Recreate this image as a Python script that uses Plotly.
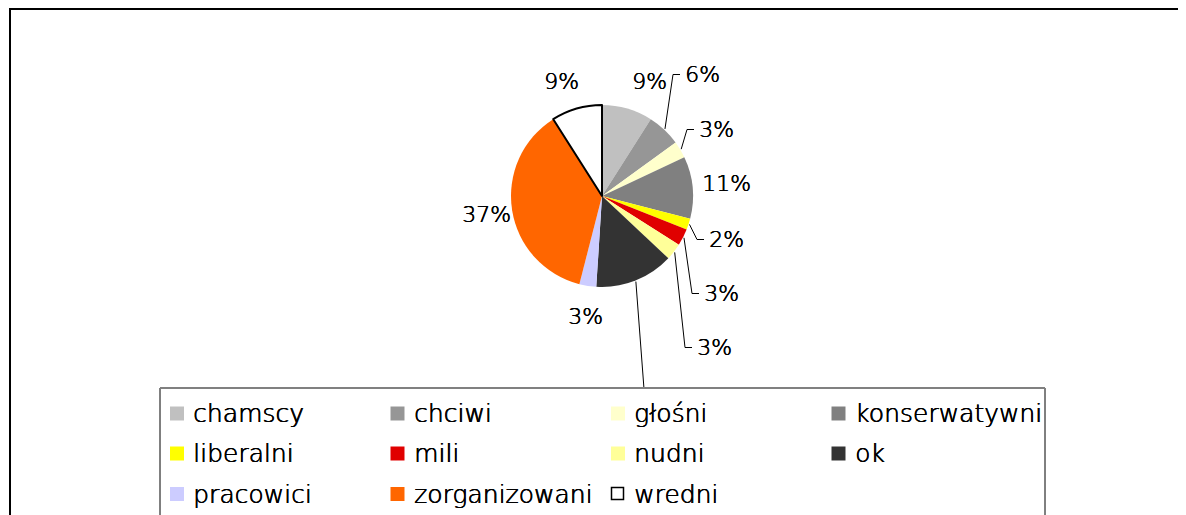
import math
import plotly.graph_objects as go

# ---------------- data ----------------
categories = ["chamscy", "chciwi", "głośni", "konserwatywni", "liberalni", "mili",
              "nudni", "ok", "pracowici", "zorganizowani", "wredni"]
values = [9, 6, 3, 11, 2, 3, 3, 14, 3, 37, 9]
colors = ["#C0C0C0", "#969696", "#FFFFCC", "#808080", "#FFFF00", "#E00000",
          "#FFFF99", "#333333", "#CCCCFF", "#FF6600", "#FFFFFF"]

# ---------------- layout constants (page pixels) ----------------
OFF = 8                      # default body margin of the html page
W, H = 1186 - OFF, 515 - OFF
CX, CY, R = 602, 196, 91
FONT = "DejaVu Sans"
WEIGHT = 300
SHADOW = "0.6px 0px 0px #000000, 0px 0.3px 0px #000000"

# label placement: (x, y, xanchor, has_leader)   None -> label hidden behind legend
label_pos = [
    (649, 81, "center", False),
    (683, 74, "left", True),
    (697, 129, "left", True),
    (726, 183, "center", False),
    (707, 239, "left", True),
    (702, 293, "left", True),
    (695, 347, "left", True),
    None,
    (585, 316, "center", False),
    (486, 214, "center", False),
    (561, 82, "center", False),
]


def px(x):
    return (x - OFF) / W


def py(y):
    return 1 - (y - OFF) / H


def font(size):
    return dict(family=FONT, size=size, color="#000000", weight=WEIGHT, shadow=SHADOW)


fig = go.Figure()

line_w = [2 if c == "wredni" else 0 for c in categories]
line_c = ["#000000" if c == "wredni" else "rgba(0,0,0,0)" for c in categories]

fig.add_trace(go.Pie(
    labels=categories,
    values=values,
    sort=False,
    direction="clockwise",
    rotation=0,
    textinfo="none",
    hoverinfo="label+percent",
    marker=dict(colors=colors, line=dict(color=line_c, width=line_w)),
    domain=dict(x=[px(CX - R), px(CX + R)], y=[py(CY + R), py(CY - R)]),
    showlegend=False,
))

shapes = []
annotations = []

# outer border of chart area
shapes.append(dict(type="rect", xref="paper", yref="paper",
                   x0=px(10), x1=px(1210), y0=py(9), y1=py(540),
                   line=dict(color="#000000", width=2), fillcolor="rgba(0,0,0,0)"))

total = sum(values)
cum = 0.0
for i, v in enumerate(values):
    mid = (cum + v / 2) / total * 2 * math.pi
    cum += v
    sx = CX + (R + 1) * math.sin(mid)
    sy = CY - (R + 1) * math.cos(mid)
    pct = f"{round(v / total * 100):.0f}%"
    lp = label_pos[i]
    if lp is None:
        # leader goes down under the legend box (label hidden)
        shapes.append(dict(type="path", xref="paper", yref="paper",
                           path=f"M{px(sx)},{py(sy)} L{px(644)},{py(389)}",
                           line=dict(color="#000000", width=1)))
        continue
    lx, ly, xa, lead = lp
    if lead:
        ex = lx - 10
        ey = ly + 0.5
        shapes.append(dict(type="path", xref="paper", yref="paper",
                           path=f"M{px(sx)},{py(sy)} L{px(ex)},{py(ey)} L{px(lx - 3)},{py(ey)}",
                           line=dict(color="#000000", width=1)))
    annotations.append(dict(x=px(lx), y=py(ly), xref="paper", yref="paper",
                            text=pct, showarrow=False, xanchor=xa, yanchor="middle",
                            font=font(22)))

# legend box (manual)
LX0, LY0, LX1 = 160, 388, 1045
shapes.append(dict(type="rect", xref="paper", yref="paper",
                   x0=px(LX0), x1=px(LX1), y0=py(LY0), y1=py(540),
                   line=dict(width=0), fillcolor="#FFFFFF"))
shapes.append(dict(type="line", xref="paper", yref="paper",
                   x0=px(LX0), x1=px(LX0), y0=py(LY0), y1=py(540),
                   line=dict(color="#000000", width=1)))
shapes.append(dict(type="line", xref="paper", yref="paper",
                   x0=px(LX1), x1=px(LX1), y0=py(LY0), y1=py(540),
                   line=dict(color="#000000", width=1)))
shapes.append(dict(type="line", xref="paper", yref="paper",
                   x0=px(LX0), x1=px(LX1), y0=py(LY0), y1=py(LY0),
                   line=dict(color="#808080", width=2)))

COL_X = [170, 390.5, 611, 831.5]
ROW_Y = [413.5, 453.5, 494]
SQ = 14
for i, (c, col) in enumerate(zip(categories, colors)):
    r, k = divmod(i, 4)
    x0 = COL_X[k]
    yc = ROW_Y[r]
    if c == "wredni":
        shapes.append(dict(type="rect", xref="paper", yref="paper",
                           x0=px(x0 + 0.5), x1=px(x0 + SQ - 1.5), y0=py(yc - SQ / 2 + 0.5), y1=py(yc + SQ / 2 - 1.5),
                           line=dict(color="#000000", width=1.5), fillcolor=col))
    else:
        shapes.append(dict(type="rect", xref="paper", yref="paper",
                           x0=px(x0), x1=px(x0 + SQ), y0=py(yc - SQ / 2), y1=py(yc + SQ / 2),
                           line=dict(width=0), fillcolor=col))
    annotations.append(dict(x=px(x0 + 21), y=py(yc), xref="paper", yref="paper",
                            text=c, showarrow=False, xanchor="left", yanchor="middle",
                            font=font(25)))

fig.update_layout(
    width=W, height=H,
    margin=dict(l=0, r=0, t=0, b=0),
    paper_bgcolor="#FFFFFF",
    plot_bgcolor="#FFFFFF",
    shapes=shapes,
    annotations=annotations,
    showlegend=False,
)

fig.write_html("out.html")
